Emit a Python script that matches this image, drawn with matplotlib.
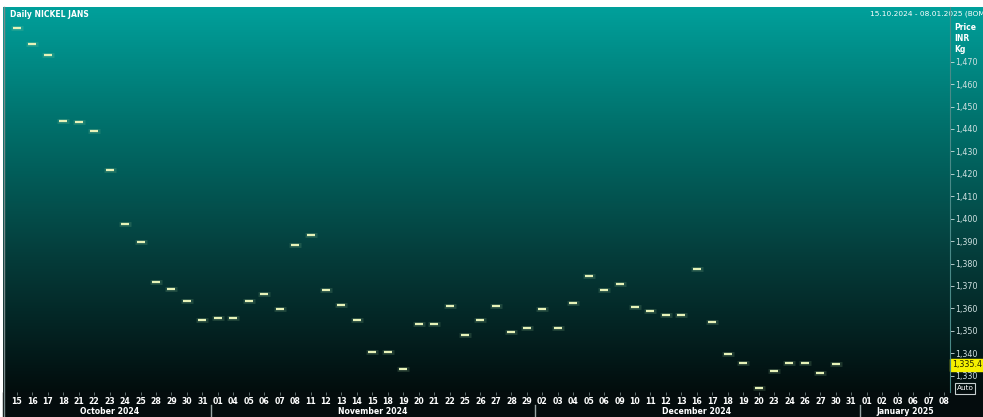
import numpy as np
import matplotlib
matplotlib.use("Agg")
import matplotlib.pyplot as plt
from matplotlib.colors import LinearSegmentedColormap
from matplotlib.patches import Rectangle

# ---- data ----
day_labels = ["15", "16", "17", "18", "21", "22", "23", "24", "25", "28", "29", "30", "31",
              "01", "04", "05", "06", "07", "08", "11", "12", "13", "14", "15", "18", "19", "20",
              "21", "22", "25", "26", "27", "28", "29",
              "02", "03", "04", "05", "06", "09", "10", "11", "12", "13", "16", "17", "18", "19",
              "20", "23", "24", "26", "27", "30", "31",
              "01", "02", "03", "06", "07", "08"]
month_names = ["October 2024", "November 2024", "December 2024", "January 2025"]
month_starts = [0, 13, 34, 55]
prices = [1484.9, 1477.8, 1473.0, 1443.7, 1443.0, 1439.2, 1421.7, 1397.5, 1389.7, 1371.9,
          1368.8, 1363.3, 1354.8, 1355.9, 1355.9, 1363.4, 1366.3, 1359.7, 1388.4, 1392.6,
          1368.1, 1361.5, 1354.8, 1340.6, 1340.6, 1333.0, 1352.9, 1352.9, 1361.1, 1348.3,
          1354.8, 1361.1, 1349.6, 1351.1, 1359.9, 1351.1, 1362.3, 1374.6, 1368.2, 1370.9,
          1360.6, 1359.0, 1356.9, 1356.9, 1377.4, 1353.8, 1339.8, 1335.7, 1324.7, 1332.2,
          1335.8, 1335.8, 1331.2, 1335.4]
y_ticks = [1330, 1340, 1350, 1360, 1370, 1380, 1390, 1400, 1410, 1420, 1430, 1440, 1450, 1460, 1470]
last_price = 1335.4

W, H = 983, 417
fig = plt.figure(figsize=(W / 100, H / 100), dpi=100)
fig.patch.set_facecolor("white")

# background gradient
bg = fig.add_axes([0, 0, 1, 1])
bg.set_xlim(0, W)
bg.set_ylim(H, 0)
bg.axis("off")
cmap = LinearSegmentedColormap.from_list("g", [(0, "#00a09b"), (0.3, "#00716c"),
                                               (0.65, "#053c3a"), (1.0, "#020d0d")])
grad = np.linspace(0, 1, 256).reshape(-1, 1)
bg.imshow(grad, cmap=cmap, aspect="auto", extent=[3, W, 392, 7], zorder=0)
bg.add_patch(Rectangle((3, 392), W, 25, color="#040c0d", zorder=1))
bg.plot([4, 4], [7, 417], color="#7a8a8a", lw=1, zorder=2)
bg.text(10, 14, "Daily NICKEL JANS", color="white", fontsize=5.5, fontweight="bold",
        va="center", ha="left")
bg.text(870, 14, "15.10.2024 - 08.01.2025 (BOM)", color="white", fontsize=5.3,
        va="center", ha="left", clip_on=True)
for i, t in enumerate(["Price", "INR", "Kg"]):
    bg.text(954, 27 + i * 11, t, color="white", fontsize=5.5, fontweight="bold",
            va="center", ha="left")
# month separators
for s in month_starts[1:]:
    xs = 17 + (s - 0.5) * 15.45 + 0.5
    bg.plot([xs, xs], [405, 417], color="#9aa6a6", lw=1, zorder=3)
bg.add_patch(Rectangle((950, 359), 33, 12, color="#f4f000", zorder=4))
bg.text(952, 365, "1,335.4", color="#202000", fontsize=5.8, va="center", ha="left", zorder=5)
bg.add_patch(Rectangle((955, 383), 20, 11, facecolor="none", edgecolor="#c8d0d0", lw=0.8, zorder=4))
bg.text(965, 388.5, "Auto", color="white", fontsize=5.2, va="center", ha="center", zorder=5)

# main axes
ax = fig.add_axes([6 / W, 1 - 392 / H, (950 - 6) / W, (392 - 7) / H])
ax.patch.set_alpha(0)
x = np.arange(len(prices))
ax.plot(x, prices, linestyle="none", marker="_", markersize=9, markeredgewidth=3.5,
        color="#9fcf9a", alpha=0.18)
ax.plot(x, prices, linestyle="none", marker="_", markersize=6, markeredgewidth=1.6,
        color="#e6f2b8")
ax.set_xlim(-0.71, 60.39)
ax.set_ylim(1322.7, 1494.4)
for sp in ax.spines.values():
    sp.set_visible(False)
ax.spines["right"].set_visible(True)
ax.spines["right"].set_color("#4a8a88")
ax.spines["right"].set_linewidth(0.8)
ax.yaxis.tick_right()
ax.set_yticks(y_ticks)
ax.set_yticklabels([f"{v:,}" for v in y_ticks])
ax.tick_params(axis="y", colors="#cfe0e0", labelsize=5.8, length=3, width=0.6, pad=1,
               direction="out")
ax.set_xticks(np.arange(len(day_labels)))
ax.set_xticklabels(day_labels)
ax.tick_params(axis="x", colors="#708080", labelcolor="white", labelsize=5.6, length=2,
               width=0.6, pad=1.5, direction="out")
for lbl in ax.get_xticklabels():
    lbl.set_fontweight("bold")

ends = month_starts[1:] + [len(day_labels)]
for name, s, e in zip(month_names, month_starts, ends):
    cx = 17 + ((s + e - 1) / 2) * 15.45
    if name.startswith("January"):
        cx = 905
    bg.text(cx, 411.5, name, color="white", fontsize=5.6, fontweight="bold",
            va="center", ha="center")

fig.savefig("out.png", dpi=100, facecolor=fig.get_facecolor())
